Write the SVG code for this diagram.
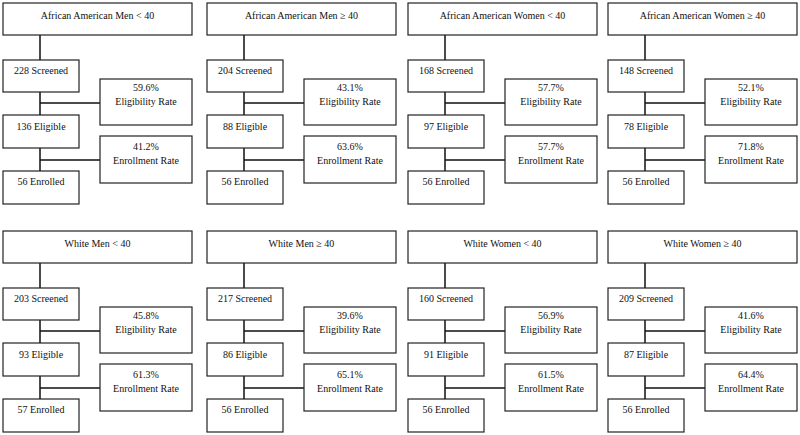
<svg xmlns="http://www.w3.org/2000/svg" width="800" height="435" viewBox="0 0 800 435">
<style>
rect{fill:#fff;stroke:#222;stroke-width:1.2}
text{font-family:'Liberation Serif','DejaVu Serif',serif;font-size:10px;fill:#111;text-anchor:middle}
.c path{fill:none;stroke:#111;stroke-width:1.5}
</style>
<rect x="0" y="0" width="800" height="435" style="stroke:none"/>
<g class="c" id="connectors">
<path d="M40 35V60M40 92V115M40 148V171M40 103H100M40 160H100"/>
<path d="M244 35V60M244 92V115M244 148V171M244 103H304M244 160H304"/>
<path d="M445 35V60M445 92V115M445 148V171M445 103H505M445 160H505"/>
<path d="M645 35V60M645 92V115M645 148V171M645 103H705M645 160H705"/>
<path d="M40 263V288M40 320V343M40 376V399M40 331H100M40 388H100"/>
<path d="M244 263V288M244 320V343M244 376V399M244 331H304M244 388H304"/>
<path d="M445 263V288M445 320V343M445 376V399M445 331H505M445 388H505"/>
<path d="M645 263V288M645 320V343M645 376V399M645 331H705M645 388H705"/>
</g>

<g transform="translate(3,0)">
<g id="p1-title"><rect x="0" y="3" width="189" height="32"/><text x="94.5" y="19">African American Men &lt; 40</text></g>
<g id="p1-screened"><rect x="0" y="60" width="76" height="32"/><text x="38" y="74">228 Screened</text></g>
<g id="p1-elig-rate"><rect x="97" y="79" width="92" height="46"/><text x="143" y="91">59.6%</text><text x="143" y="105">Eligibility Rate</text></g>
<g id="p1-eligible"><rect x="0" y="115" width="76" height="33"/><text x="38" y="130">136 Eligible</text></g>
<g id="p1-enr-rate"><rect x="97" y="136" width="92" height="47"/><text x="143" y="150">41.2%</text><text x="143" y="164">Enrollment Rate</text></g>
<g id="p1-enrolled"><rect x="0" y="171" width="76" height="33"/><text x="38" y="185">56 Enrolled</text></g>
</g>

<g transform="translate(207,0)">
<g id="p2-title"><rect x="0" y="3" width="189" height="32"/><text x="94.5" y="19">African American Men ≥ 40</text></g>
<g id="p2-screened"><rect x="0" y="60" width="76" height="32"/><text x="38" y="74">204 Screened</text></g>
<g id="p2-elig-rate"><rect x="97" y="79" width="92" height="46"/><text x="143" y="91">43.1%</text><text x="143" y="105">Eligibility Rate</text></g>
<g id="p2-eligible"><rect x="0" y="115" width="76" height="33"/><text x="38" y="130">88 Eligible</text></g>
<g id="p2-enr-rate"><rect x="97" y="136" width="92" height="47"/><text x="143" y="150">63.6%</text><text x="143" y="164">Enrollment Rate</text></g>
<g id="p2-enrolled"><rect x="0" y="171" width="76" height="33"/><text x="38" y="185">56 Enrolled</text></g>
</g>

<g transform="translate(408,0)">
<g id="p3-title"><rect x="0" y="3" width="189" height="32"/><text x="94.5" y="19">African American Women &lt; 40</text></g>
<g id="p3-screened"><rect x="0" y="60" width="76" height="32"/><text x="38" y="74">168 Screened</text></g>
<g id="p3-elig-rate"><rect x="97" y="79" width="92" height="46"/><text x="143" y="91">57.7%</text><text x="143" y="105">Eligibility Rate</text></g>
<g id="p3-eligible"><rect x="0" y="115" width="76" height="33"/><text x="38" y="130">97 Eligible</text></g>
<g id="p3-enr-rate"><rect x="97" y="136" width="92" height="47"/><text x="143" y="150">57.7%</text><text x="143" y="164">Enrollment Rate</text></g>
<g id="p3-enrolled"><rect x="0" y="171" width="76" height="33"/><text x="38" y="185">56 Enrolled</text></g>
</g>

<g transform="translate(608,0)">
<g id="p4-title"><rect x="0" y="3" width="189" height="32"/><text x="94.5" y="19">African American Women ≥ 40</text></g>
<g id="p4-screened"><rect x="0" y="60" width="76" height="32"/><text x="38" y="74">148 Screened</text></g>
<g id="p4-elig-rate"><rect x="97" y="79" width="92" height="46"/><text x="143" y="91">52.1%</text><text x="143" y="105">Eligibility Rate</text></g>
<g id="p4-eligible"><rect x="0" y="115" width="76" height="33"/><text x="38" y="130">78 Eligible</text></g>
<g id="p4-enr-rate"><rect x="97" y="136" width="92" height="47"/><text x="143" y="150">71.8%</text><text x="143" y="164">Enrollment Rate</text></g>
<g id="p4-enrolled"><rect x="0" y="171" width="76" height="33"/><text x="38" y="185">56 Enrolled</text></g>
</g>

<g transform="translate(3,228)">
<g id="p5-title"><rect x="0" y="3" width="189" height="32"/><text x="94.5" y="19">White Men &lt; 40</text></g>
<g id="p5-screened"><rect x="0" y="60" width="76" height="32"/><text x="38" y="74">203 Screened</text></g>
<g id="p5-elig-rate"><rect x="97" y="79" width="92" height="46"/><text x="143" y="91">45.8%</text><text x="143" y="105">Eligibility Rate</text></g>
<g id="p5-eligible"><rect x="0" y="115" width="76" height="33"/><text x="38" y="130">93 Eligible</text></g>
<g id="p5-enr-rate"><rect x="97" y="136" width="92" height="47"/><text x="143" y="150">61.3%</text><text x="143" y="164">Enrollment Rate</text></g>
<g id="p5-enrolled"><rect x="0" y="171" width="76" height="33"/><text x="38" y="185">57 Enrolled</text></g>
</g>

<g transform="translate(207,228)">
<g id="p6-title"><rect x="0" y="3" width="189" height="32"/><text x="94.5" y="19">White Men ≥ 40</text></g>
<g id="p6-screened"><rect x="0" y="60" width="76" height="32"/><text x="38" y="74">217 Screened</text></g>
<g id="p6-elig-rate"><rect x="97" y="79" width="92" height="46"/><text x="143" y="91">39.6%</text><text x="143" y="105">Eligibility Rate</text></g>
<g id="p6-eligible"><rect x="0" y="115" width="76" height="33"/><text x="38" y="130">86 Eligible</text></g>
<g id="p6-enr-rate"><rect x="97" y="136" width="92" height="47"/><text x="143" y="150">65.1%</text><text x="143" y="164">Enrollment Rate</text></g>
<g id="p6-enrolled"><rect x="0" y="171" width="76" height="33"/><text x="38" y="185">56 Enrolled</text></g>
</g>

<g transform="translate(408,228)">
<g id="p7-title"><rect x="0" y="3" width="189" height="32"/><text x="94.5" y="19">White Women &lt; 40</text></g>
<g id="p7-screened"><rect x="0" y="60" width="76" height="32"/><text x="38" y="74">160 Screened</text></g>
<g id="p7-elig-rate"><rect x="97" y="79" width="92" height="46"/><text x="143" y="91">56.9%</text><text x="143" y="105">Eligibility Rate</text></g>
<g id="p7-eligible"><rect x="0" y="115" width="76" height="33"/><text x="38" y="130">91 Eligible</text></g>
<g id="p7-enr-rate"><rect x="97" y="136" width="92" height="47"/><text x="143" y="150">61.5%</text><text x="143" y="164">Enrollment Rate</text></g>
<g id="p7-enrolled"><rect x="0" y="171" width="76" height="33"/><text x="38" y="185">56 Enrolled</text></g>
</g>

<g transform="translate(608,228)">
<g id="p8-title"><rect x="0" y="3" width="189" height="32"/><text x="94.5" y="19">White Women ≥ 40</text></g>
<g id="p8-screened"><rect x="0" y="60" width="76" height="32"/><text x="38" y="74">209 Screened</text></g>
<g id="p8-elig-rate"><rect x="97" y="79" width="92" height="46"/><text x="143" y="91">41.6%</text><text x="143" y="105">Eligibility Rate</text></g>
<g id="p8-eligible"><rect x="0" y="115" width="76" height="33"/><text x="38" y="130">87 Eligible</text></g>
<g id="p8-enr-rate"><rect x="97" y="136" width="92" height="47"/><text x="143" y="150">64.4%</text><text x="143" y="164">Enrollment Rate</text></g>
<g id="p8-enrolled"><rect x="0" y="171" width="76" height="33"/><text x="38" y="185">56 Enrolled</text></g>
</g>
</svg>
